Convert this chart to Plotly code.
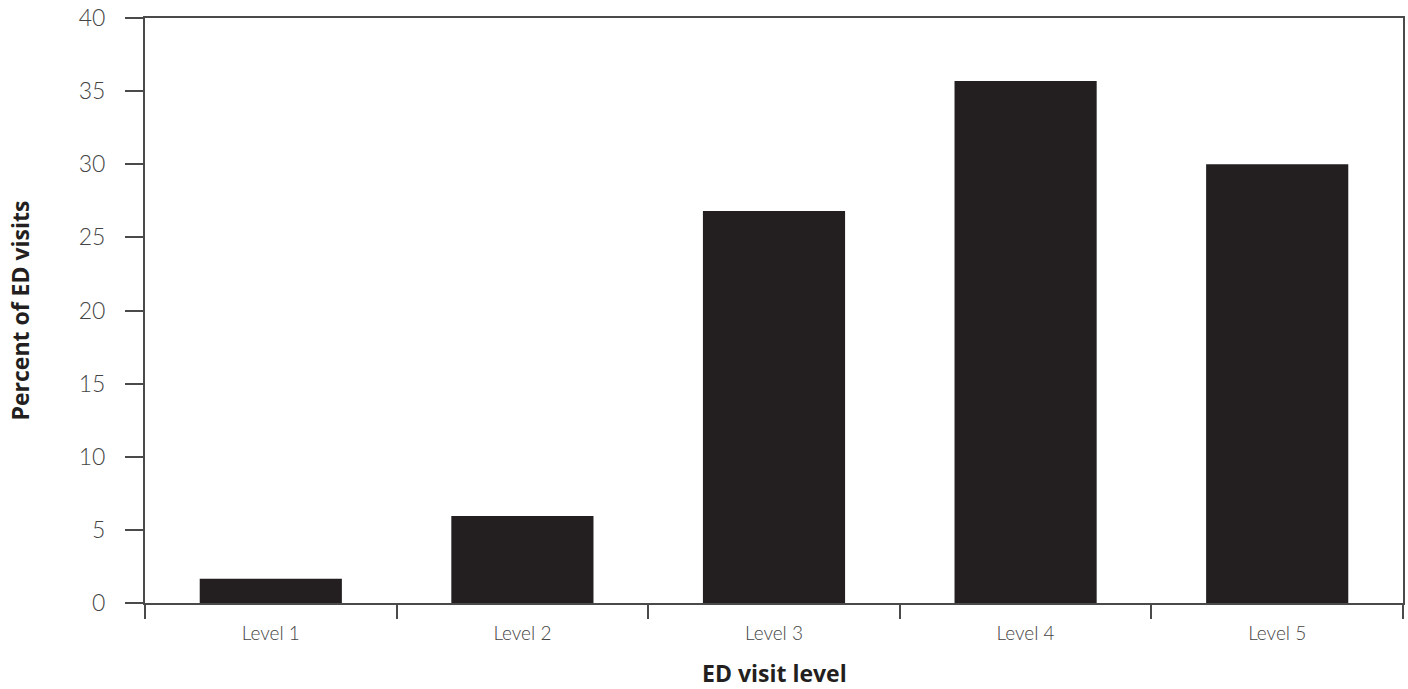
import plotly.graph_objects as go

categories = ["Level 1", "Level 2", "Level 3", "Level 4", "Level 5"]
percent_values = [1.65, 5.95, 26.8, 35.7, 30.0]
y_ticks = [0, 5, 10, 15, 20, 25, 30, 35, 40]

bar_color = "#231f20"
axis_color = "#4a4a4a"
tick_font = "Lato Light, Lato, Open Sans, sans-serif"
title_font = "Open Sans, Lato, sans-serif"

fig = go.Figure()
fig.add_trace(go.Bar(
    x=categories,
    y=percent_values,
    marker=dict(color=bar_color, line=dict(width=0)),
    width=0.565,
))

fig.update_layout(
    width=1408, height=689,
    margin=dict(l=145, r=5, t=18, b=86, autoexpand=False),
    paper_bgcolor="white", plot_bgcolor="white",
    showlegend=False,
    font=dict(family=tick_font, color="#444444", size=19),
)

fig.update_xaxes(
    type="category",
    showline=True, linecolor=axis_color, linewidth=2, mirror=True,
    ticks="outside", tickson="boundaries", ticklen=14, tickwidth=1.5, tickcolor=axis_color,
    showgrid=False, zeroline=False,
    ticklabelstandoff=12,
    tickfont=dict(size=19, color="#444444", family=tick_font),
)
fig.update_yaxes(
    range=[0, 40],
    tickvals=y_ticks,
    showline=True, linecolor=axis_color, linewidth=2, mirror=True,
    ticks="outside", ticklen=18, tickwidth=2, tickcolor=axis_color,
    showgrid=False, zeroline=False,
    ticklabelstandoff=15,
    tickfont=dict(size=23, color="#444444", family=tick_font),
)

fig.add_annotation(
    text="<b>Percent of ED visits</b>", textangle=-90,
    xref="paper", yref="paper", x=0, y=0.5,
    xanchor="center", yanchor="middle", xshift=-126, showarrow=False,
    font=dict(size=23, color="#231f20", family=title_font),
)
fig.add_annotation(
    text="<b>ED visit level</b>",
    xref="paper", yref="paper", x=0.5, y=0,
    xanchor="center", yanchor="middle", yshift=-70, showarrow=False,
    font=dict(size=23, color="#231f20", family=title_font),
)

fig.write_html(
    "out.html",
    config={"displayModeBar": False},
    post_script="document.body.style.margin='0';",
)
